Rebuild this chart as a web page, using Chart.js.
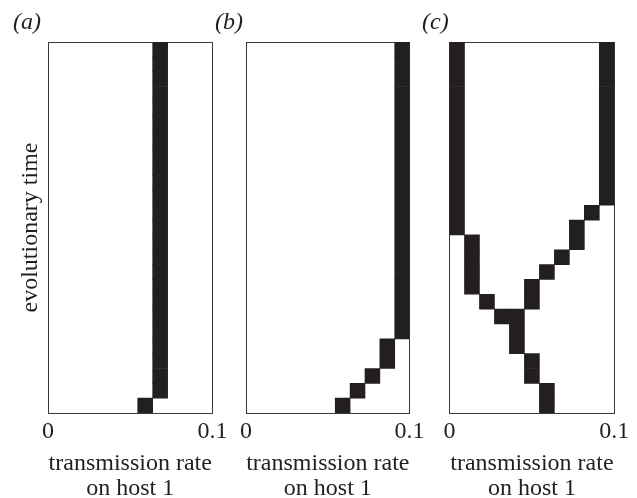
<!DOCTYPE html>
<html>
<head>
<meta charset="utf-8">
<script src="https://cdn.jsdelivr.net/npm/chart.js@4.4.0/dist/chart.umd.min.js"></script>
<style>
html, body { margin: 0; padding: 0; background: #fff; overflow: hidden; }
body { width: 637px; height: 498px; position: relative; }
canvas { position: absolute; top: 0; }
</style>
</head>
<body>
<canvas id="panelA" width="220" height="501" style="left:13px"></canvas>
<canvas id="panelB" width="215" height="501" style="left:215px"></canvas>
<canvas id="panelC" width="215" height="501" style="left:422px"></canvas>
<script>
// 11 trait classes spread over 0 .. 0.1, 25 evolutionary time steps
var traitBins = ['0', '1', '2', '3', '4', '5', '6', '7', '8', '9', '10'];
var timeSteps = 25;
var xTickValues = [0, 0.1];
var xAxisTitle = ['transmission rate', 'on host 1'];
var yAxisTitle = 'evolutionary time';

// occupied trait class at each time step, bottom (t = 0) upward
var panelA = [6, 7, 7, 7, 7, 7, 7, 7, 7, 7, 7, 7, 7, 7, 7, 7, 7, 7, 7, 7, 7, 7, 7, 7, 7];
var panelB = [6, 7, 8, 9, 9, 10, 10, 10, 10, 10, 10, 10, 10, 10, 10, 10, 10, 10, 10, 10, 10, 10, 10, 10, 10];
var panelCLow = [6, 6, 5, 5, 4, 4, 3, 2, 1, 1, 1, 1, 0, 0, 0, 0, 0, 0, 0, 0, 0, 0, 0, 0, 0];
var panelCHigh = [null, null, null, null, null, null, 4, 5, 5, 6, 7, 8, 8, 9, 10, 10, 10, 10, 10, 10, 10, 10, 10, 10, 10];

Chart.defaults.font.family = "'Liberation Serif', 'Times New Roman', serif";
Chart.defaults.color = '#231f20';

function toCells(series) {
    var cells = [];
    series.forEach(function (bin, t) {
        if (bin !== null) cells.push({ x: traitBins[bin], y: [t, t + 1] });
    });
    return cells;
}

function fixWidth(w) { return function (scale) { scale.width = w; }; }
function fixHeight(h) { return function (scale) { scale.height = h; }; }

var edge = { display: true, color: '#3a3a3a', width: 1 };

function makePanel(id, title, seriesList, leftW, rightW, showYTitle) {
    var ctx = document.getElementById(id).getContext('2d');
    return new Chart(ctx, {
        type: 'bar',
        data: {
            labels: traitBins,
            datasets: seriesList.map(function (s) {
                return {
                    data: toCells(s),
                    backgroundColor: '#231f20',
                    borderWidth: 0,
                    barPercentage: 1,
                    categoryPercentage: 1,
                    grouped: false
                };
            })
        },
        options: {
            responsive: false,
            animation: false,
            events: [],
            layout: { padding: 0 },
            plugins: {
                legend: { display: false },
                tooltip: { enabled: false },
                title: {
                    display: true,
                    text: title,
                    align: 'start',
                    color: '#231f20',
                    font: { size: 24, style: 'italic', weight: 'normal', lineHeight: 1.2 },
                    padding: { top: 8, bottom: 5.2 }
                }
            },
            scales: {
                x: { type: 'category', display: false, offset: true },
                xv: {
                    type: 'linear', position: 'bottom', min: 0, max: 0.1, offset: false,
                    afterBuildTicks: function (scale) {
                        scale.ticks = xTickValues.map(function (v) { return { value: v }; });
                    },
                    afterFit: fixHeight(88),
                    grid: { display: false, drawTicks: false, offset: false },
                    border: edge,
                    ticks: { padding: 4, maxRotation: 0, autoSkip: false, font: { size: 24 } },
                    title: {
                        display: true, text: xAxisTitle,
                        font: { size: 24, lineHeight: 1.04 },
                        padding: { top: 0, bottom: 0 }
                    }
                },
                xt: {
                    type: 'linear', position: 'top', offset: false,
                    afterFit: fixHeight(0),
                    grid: { display: false, drawTicks: false, offset: false },
                    border: edge,
                    ticks: { display: false }
                },
                y: {
                    type: 'linear', position: 'left', min: 0, max: timeSteps,
                    afterFit: fixWidth(leftW),
                    grid: { display: false, drawTicks: false },
                    border: edge,
                    ticks: { display: false },
                    title: {
                        display: showYTitle, text: yAxisTitle,
                        font: { size: 24, lineHeight: 1.2 },
                        padding: { top: 3, bottom: 0 }
                    }
                },
                yr: {
                    type: 'linear', position: 'right',
                    afterFit: fixWidth(rightW),
                    grid: { display: false, drawTicks: false },
                    border: edge,
                    ticks: { display: false }
                }
            }
        }
    });
}

makePanel('panelA', '(a)', [panelA], 35, 20.5, true);
makePanel('panelB', '(b)', [panelB], 31, 20.4, false);
makePanel('panelC', '(c)', [panelCLow, panelCHigh], 27.5, 22.7, false);
</script>
</body>
</html>
